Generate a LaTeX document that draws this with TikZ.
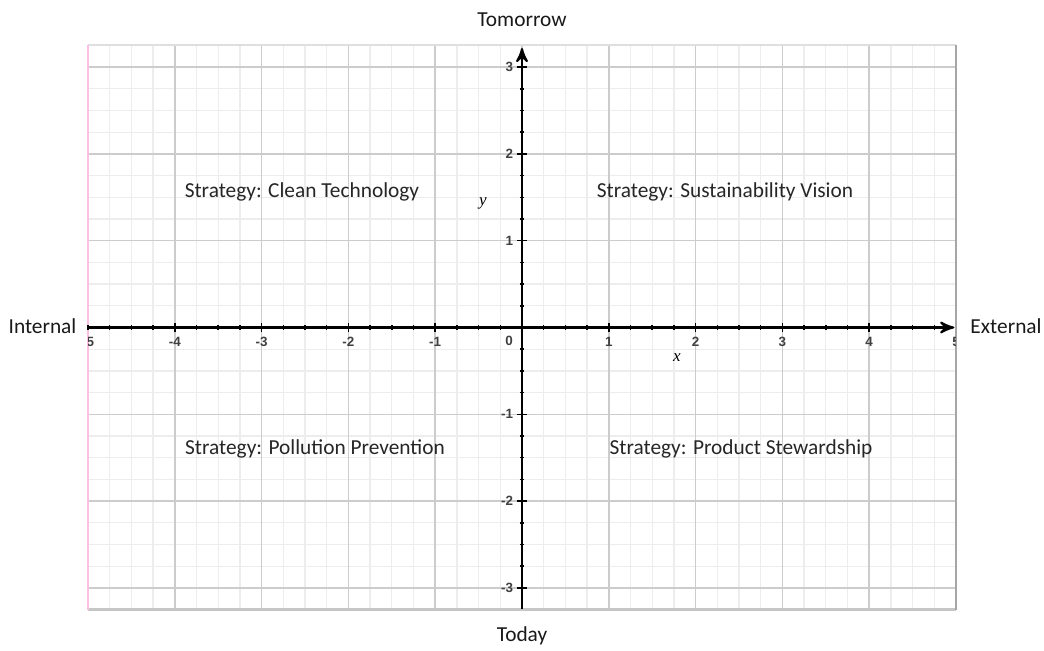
\documentclass[tikz,border=0pt]{standalone}
\usepackage{fontspec}
\setmainfont{Carlito}
\newfontfamily\ticksfont{Liberation Sans}
\newfontfamily\varfont{Liberation Serif}
\usetikzlibrary{arrows}
\tikzstyle{quad} = [font=\fontsize{7}{8}\selectfont, text=black!85, inner sep=0pt]
\tikzstyle{side} = [font=\fontsize{7}{8}\selectfont, text=black!90, inner sep=0pt]
\tikzstyle{tick} = [font=\ticksfont\bfseries\fontsize{4.4}{5}\selectfont,
    text=black!75, inner sep=0pt]
\tikzstyle{axlabel} = [font=\varfont\itshape\fontsize{5.6}{6}\selectfont, inner sep=0pt]

\begin{document}
\begin{tikzpicture}[>=stealth', x=1cm, y=1cm]
  \useasboundingbox (-6.014,-3.716) rectangle (6.014,3.773);

  % grid
  \draw[gray!14, line width=0.4pt, step=0.25] (-5,-3.25) grid (5,3.25);
  \draw[gray!40, line width=0.5pt, step=1] (-5,-3.25) grid (5,3.25);
  \draw[gray!25, line width=0.6pt] (-5,3.25) -- (5,3.25);
  \draw[gray!45, line width=0.8pt] (-5,-3.25) -- (5,-3.25);
  \draw[magenta!25, line width=0.8pt] (-5,-3.25) -- (-5,3.25);
  \draw[gray!70, line width=0.6pt] (5,-3.25) -- (5,3.25);

  % axes
  \draw[->, line width=0.7pt] (-5,0) -- (4.98,0);
  \draw[->, line width=0.7pt] (0,-3.24) -- (0,3.22);
  \foreach \t in {-5,-4.75,...,4.8}
    \draw[line width=0.5pt] (\t,-0.025) -- (\t,0.025);
  \foreach \t in {-3,-2.75,...,3.1}
    \draw[line width=0.5pt] (-0.025,\t) -- (0.025,\t);
  \foreach \t in {-4,...,4}
    \draw[line width=0.5pt] (\t,-0.055) -- (\t,0.055);
  \foreach \t in {-3,...,3}
    \draw[line width=0.5pt] (-0.055,\t) -- (0.055,\t);

  % tick labels
  \begin{scope}
    \clip (-5,-3.25) rectangle (5,3.25);
    \foreach \t in {-5,-4,-3,-2,-1,1,2,3,4,5}
      \node[tick] (xt\t) at (\t,-0.167) {\t};
    \node[tick] (xt0) at (-0.15,-0.156) {0};
    \foreach \t in {-3,-2,-1,1,2,3}
      \node[tick, anchor=east] (yt\t) at (-0.095,\t) {\t};
  \end{scope}

  \node[axlabel] (xlab) at (1.786,-0.351) {x};
  \node[axlabel] (ylab) at (-0.449,1.434) {y};

  % directions
  \node[side] (tomorrow) at (0,3.543) {Tomorrow};
  \node[side] (today) at (0,-3.554) {Today};
  \node[side, anchor=east] (internal) at (-5.127,0.01) {Internal};
  \node[side, anchor=west] (external) at (5.16,0.01) {External};

  % quadrants
  \node[quad] (clean) at (-2.535,1.561) {Strategy: Clean Technology};
  \node[quad] (vision) at (2.339,1.561) {Strategy: Sustainability Vision};
  \node[quad] (pollution) at (-2.385,-1.40) {Strategy: Pollution Prevention};
  \node[quad] (steward) at (2.523,-1.40) {Strategy: Product Stewardship};
\end{tikzpicture}
\end{document}
